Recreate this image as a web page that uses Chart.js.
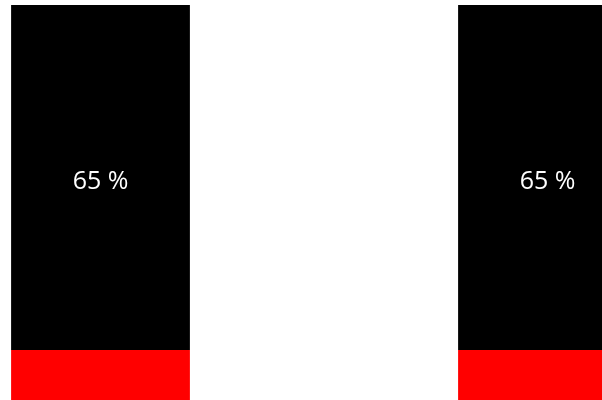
<!DOCTYPE html>
<html>
<head>
<meta charset="utf-8">
<script src="https://cdn.jsdelivr.net/npm/chart.js@4"></script>
<style>
  html, body { margin: 0; padding: 0; background: #fff; }
  #wrap { width: 602px; height: 400px; }
</style>
</head>
<body>
<div id="wrap"><canvas id="chart"></canvas></div>
<script>
const categories = ["A", "B"];
const restValues = [35, 35];
const mainValues = [65, 65];

// draws "65 %" in the middle of the black segments
const pctLabels = {
  id: "pctLabels",
  afterDatasetsDraw(chart) {
    const ctx = chart.ctx;
    const meta = chart.getDatasetMeta(1);
    ctx.save();
    ctx.fillStyle = "#fff";
    ctx.font = "25px 'Open Sans'";
    ctx.textAlign = "center";
    ctx.textBaseline = "middle";
    meta.data.forEach((bar, i) => {
      ctx.fillText(mainValues[i] + " %", bar.x, (bar.y + bar.base) / 2 + 4);
    });
    ctx.restore();
  }
};

function draw() {
  new Chart(document.getElementById("chart"), {
    type: "bar",
    data: {
      labels: categories,
      datasets: [
        { data: restValues, backgroundColor: "#ff0000", clip: false },
        { data: mainValues, backgroundColor: "#000000", clip: false }
      ]
    },
    options: {
      responsive: true,
      maintainAspectRatio: false,
      animation: false,
      categoryPercentage: 0.8,
      barPercentage: 0.5,
      layout: { padding: { left: 100.5, right: 54.5, top: 5, bottom: 0 } },
      plugins: { legend: { display: false }, tooltip: { enabled: false } },
      scales: {
        x: { stacked: true, offset: false, display: false },
        y: { stacked: true, min: 25.6, max: 100, display: false }
      }
    },
    plugins: [pctLabels]
  });
}

document.fonts.load("25px 'Open Sans'").then(draw, draw);
</script>
</body>
</html>
